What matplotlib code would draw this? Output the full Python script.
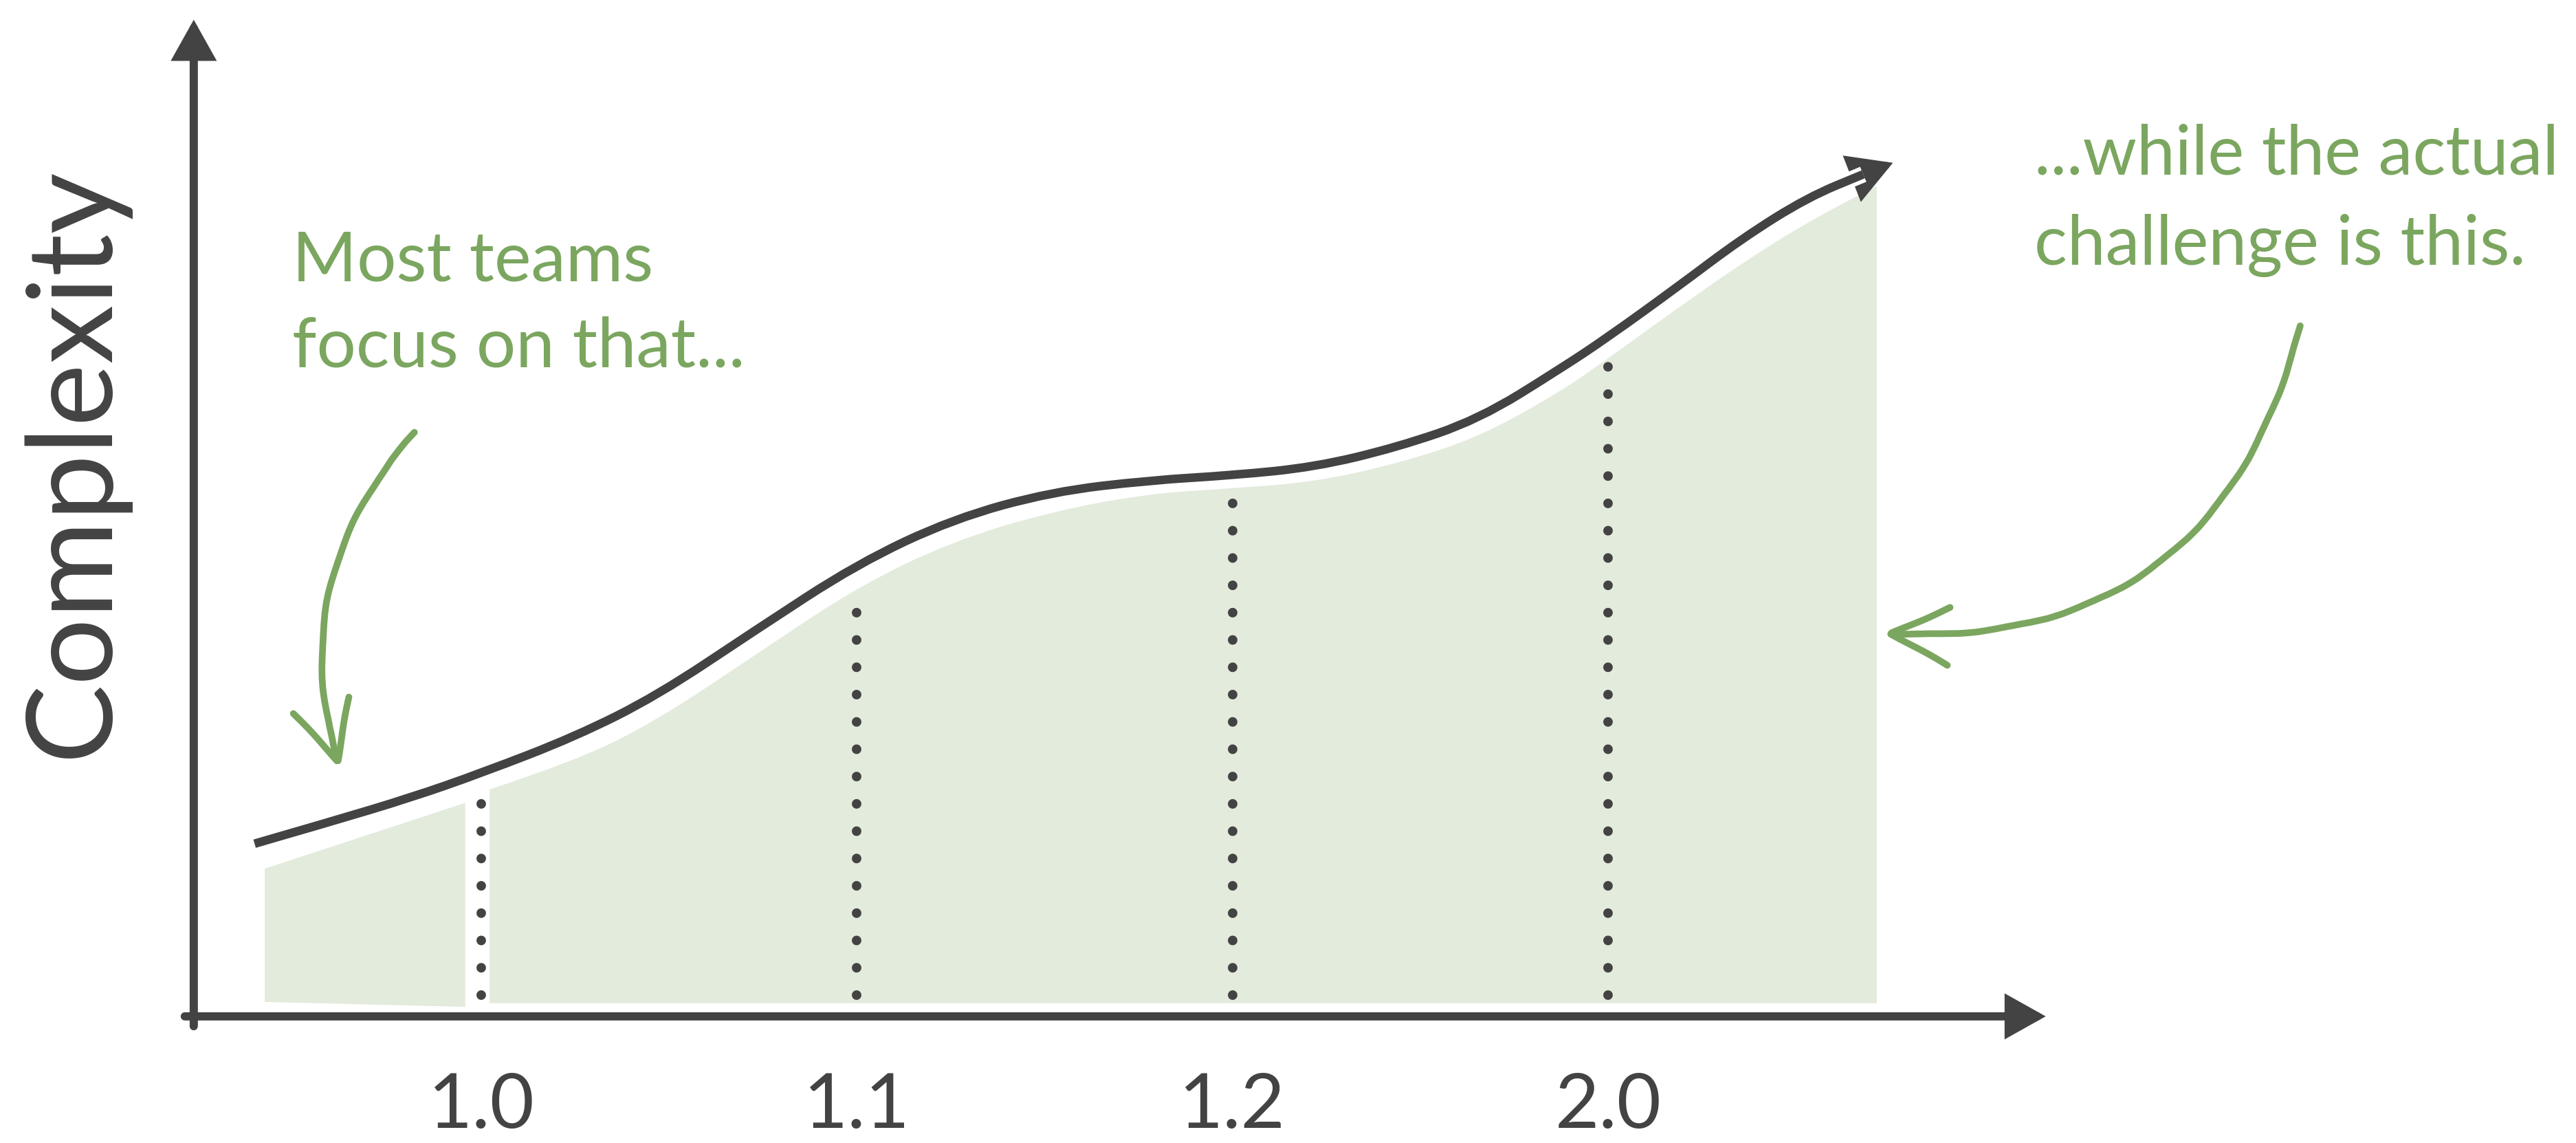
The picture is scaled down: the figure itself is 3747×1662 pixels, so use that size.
import matplotlib
matplotlib.use("Agg")
import matplotlib.pyplot as plt
from matplotlib import patheffects as pe
from matplotlib.patches import FancyArrowPatch, PathPatch
from matplotlib.path import Path

plt.rcParams["font.family"] = ["Lato", "DejaVu Sans"]

DARK = "#434343"
GREEN = "#7ba65f"
FILL = "#e2ebdc"

# releases on the x axis
versions = ["1.0", "1.1", "1.2", "2.0"]
version_x = [0, 1, 2, 3]

# complexity curve (drawn line)
curve_x = [-0.604, -0.407, -0.188, 0.0, 0.249, 0.468, 0.731, 1.0, 1.256, 1.519,
           1.781, 2.0, 2.219, 2.438, 2.656, 2.875, 3.0, 3.182, 3.357, 3.532, 3.68]
curve_y = [2.10, 2.36, 2.66, 2.96, 3.40, 3.90, 4.70, 5.50, 6.05, 6.38,
           6.52, 6.58, 6.68, 6.92, 7.26, 7.88, 8.26, 8.86, 9.46, 9.96, 10.24]
curve_tip = (3.759, 10.38)

# shaded area: first release alone, then everything after it
first_x = [-0.578, -0.044]
first_top = [1.80, 2.60]
first_bottom = [0.18, 0.12]

rest_x = [0.022, 0.249, 0.468, 0.731, 1.0, 1.256, 1.519, 1.781, 2.0, 2.219,
          2.438, 2.656, 2.875, 3.0, 3.182, 3.357, 3.532, 3.716]
rest_top = [2.76, 3.10, 3.60, 4.40, 5.22, 5.78, 6.14, 6.36, 6.42, 6.50,
            6.72, 7.04, 7.60, 8.00, 8.60, 9.16, 9.66, 10.10]
rest_bottom = 0.16

# dotted release markers
dot_top = [2.62, 5.05, 6.32, 8.06]
dot_bottom = 0.26


def smooth(xs, ys):
    # quadratic bezier through the midpoints, read points act as control points
    pts = list(zip(xs, ys))
    verts = [pts[0]]
    codes = [Path.MOVETO]
    for i in range(1, len(pts) - 1):
        mid = ((pts[i][0] + pts[i + 1][0]) / 2, (pts[i][1] + pts[i + 1][1]) / 2)
        verts += [pts[i], mid]
        codes += [Path.CURVE3, Path.CURVE3]
    verts.append(pts[-1])
    codes.append(Path.LINETO)
    return verts, codes


def arrow(ax, start, end, lw, color, hl=0.75, hw=0.42):
    ax.annotate("", xy=end, xytext=start,
                arrowprops=dict(arrowstyle=f"-|>,head_length={hl},head_width={hw}",
                                lw=lw, color=color, mutation_scale=40,
                                shrinkA=0, shrinkB=0, joinstyle="miter"))


fig = plt.figure(figsize=(37.48, 16.62), dpi=100)
ax = fig.add_axes([0, 0, 1, 1])
ax.set_xlim(-1.282, 5.580)
ax.set_ylim(-1.54, 12.36)
ax.axis("off")

# shaded area
ax.fill_between(first_x, first_bottom, first_top, color=FILL, lw=0, zorder=1)
v, c = smooth(rest_x, rest_top)
v = [(rest_x[0], rest_bottom)] + v + [(rest_x[-1], rest_bottom), (rest_x[0], rest_bottom)]
c = [Path.MOVETO, Path.LINETO] + c[1:] + [Path.LINETO, Path.CLOSEPOLY]
ax.add_patch(PathPatch(Path(v, c), facecolor=FILL, lw=0, zorder=1))

# dotted verticals
for x, top in zip(version_x, dot_top):
    ax.plot([x, x], [dot_bottom, top], color=DARK, lw=10,
            linestyle=(0, (0.01, 2.85)), dash_capstyle="round", zorder=2)

# main curve with arrow head
v, c = smooth(curve_x, curve_y)
ax.add_patch(PathPatch(Path(v, c), facecolor="none", edgecolor=DARK, lw=9,
                       capstyle="butt", joinstyle="round", zorder=4,
                       path_effects=[pe.Stroke(linewidth=17, foreground="white"),
                                     pe.Normal()]))
arrow(ax, (curve_x[-1], curve_y[-1]), curve_tip, 8, DARK, hl=0.85, hw=0.48)

# axes
arrow(ax, (-0.766, -0.12), (-0.766, 12.12), 8.6, DARK)
arrow(ax, (-0.79, 0.0), (4.166, 0.0), 8.6, DARK)

for x, lab in zip(version_x, versions):
    ax.text(x, -1.10, lab, fontsize=80, color=DARK, ha="center", va="center")

ax.text(-1.085, 6.74, "Complexity", rotation=90, fontsize=124, color=DARK,
        ha="center", va="center")

# annotations
ax.text(-0.503, 9.56, "Most teams\nfocus on that...", fontsize=73, color=GREEN,
        ha="left", va="top", linespacing=1.45)
ax.text(4.135, 10.86, "...while the actual\nchallenge is this.", fontsize=72,
        color=GREEN, ha="left", va="top", linespacing=1.55)

for start, end, rad in [((-0.175, 7.12), (-0.376, 3.0), 0.28),
                        ((4.845, 8.42), (3.729, 4.66), -0.41)]:
    a = FancyArrowPatch(start, end, connectionstyle=f"arc3,rad={rad}",
                        arrowstyle="->,head_length=1.1,head_width=0.55",
                        mutation_scale=55, lw=7, color=GREEN, zorder=5,
                        capstyle="round")
    a.set_sketch_params(0.8, 120, 1)
    ax.add_patch(a)

fig.savefig("out.png", dpi=100, facecolor="white")
